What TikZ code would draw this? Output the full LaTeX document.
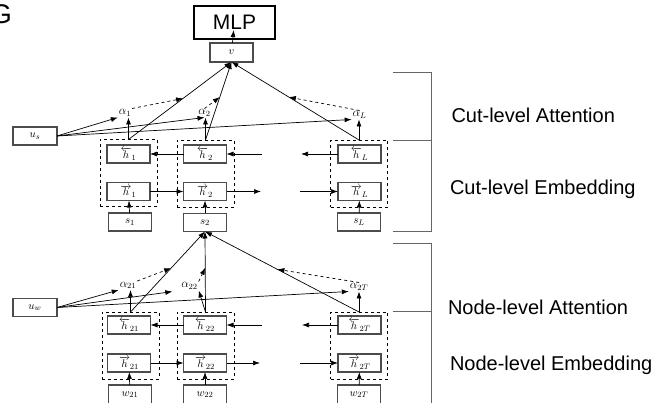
\documentclass[tikz,border=0pt]{standalone}
\usepackage{fontspec}
\newfontfamily\labelfont{Liberation Sans}
\usetikzlibrary{arrows.meta,calc}

\begin{document}
\begin{tikzpicture}[x=1pt,y=-1pt,
  every node/.style={inner sep=0pt, outer sep=0pt},
  cell/.style={draw=black!70, line width=1.1pt, minimum width=43pt, minimum height=18pt,
    font=\fontsize{11}{12}\selectfont},
  grp/.style={draw, dashed, line width=0.7pt, minimum width=57pt, minimum height=67pt},
  att/.style={font=\fontsize{11.5}{12}\selectfont, inner sep=1pt},
  arr/.style={-{Latex[length=7pt,width=5pt]}, line width=0.7pt},
  datt/.style={arr, dashed},
  bracket/.style={draw=black!60, line width=0.9pt},
  sidelabel/.style={font=\labelfont\fontsize{20}{24}\selectfont, anchor=base west},
]
\useasboundingbox (0,0) rectangle (657,403);
\clip (0,0) rectangle (657,403);

% partly cut-off title letter
\node[font=\labelfont\fontsize{27}{30}\selectfont, anchor=base east] (title) at (12,24) {G};

% ---------- output ----------
\node[draw, line width=1.6pt, minimum width=81pt, minimum height=33pt,
      font=\labelfont\fontsize{21}{24}\selectfont] (mlp) at (234.5,22.5) {MLP};
\node[cell, minimum height=19pt] (v) at (231.5,52.5) {$v$};

% ---------- cut level ----------
\node[grp] (db1) at (128.5,173) {};
\node[grp] (db2) at (205.5,173.5) {};
\node[grp] (dbL) at (359,173.5) {};

\node[cell] (bh1) at (128.5,154) {$\overleftarrow{h}_1$};
\node[cell] (fh1) at (128.5,191.5) {$\overrightarrow{h}_1$};
\node[cell] (s1)  at (130,222) {$s_1$};
\node[cell] (bh2) at (205,154) {$\overleftarrow{h}_2$};
\node[cell] (fh2) at (205,191.5) {$\overrightarrow{h}_2$};
\node[cell] (s2)  at (205,222.5) {$s_2$};
\node[cell] (bhL) at (359.5,154) {$\overleftarrow{h}_L$};
\node[cell] (fhL) at (359.5,191.5) {$\overrightarrow{h}_L$};
\node[cell] (sL)  at (359,222) {$s_L$};

\node[att] (a1) at (125,113) {$\alpha_1$};
\node[att] (a2) at (204.5,113) {$\alpha_2$};
\node[att] (aL) at (359.5,115) {$\alpha_L$};

\node[cell, minimum width=44pt] (us) at (35,136) {$u_s$};

% open ends of the recurrent chains
\coordinate (cin2)  at (262,154);
\coordinate (coutL) at (301,154);
\coordinate (cout2) at (261,191.5);
\coordinate (cinL)  at (300,191.5);

% inputs
\draw[arr] (s1) -- (fh1);
\draw[arr] (s2) -- (fh2);
\draw[arr] (sL) -- (fhL);

% recurrent links
\draw[arr] (bh2) -- (bh1);
\draw[arr] (cin2) -- (bh2);
\draw[arr] (bhL) -- (coutL);
\draw[arr] (fh1) -- (fh2);
\draw[arr] (fh2) -- (cout2);
\draw[arr] (cinL) -- (fhL);

% attention weights
\draw[arr] (db1.north) -- (db1.north |- a1.south);
\draw[arr] (db2.north) -- (db2.north |- a2.south);
\draw[arr] (dbL.north) -- (dbL.north |- aL.south);
\draw[arr] (us.east) -- (a1.south west);
\draw[arr] (us.east) -- (a2.south);
\draw[arr] (us.east) -- (aL.south west);

% weighted sum into v
\draw[arr] (db1.north) -- (v.south);
\draw[arr] (db2.north) -- (v.south);
\draw[arr] (dbL.north) -- (v.south);
\coordinate (m1) at ($(db1.north)!0.53!(v.south)$);
\coordinate (m2) at ($(db2.north)!0.55!(v.south)$);
\coordinate (mL) at ($(dbL.north)!0.55!(v.south)$);
\draw[datt] (a1.north east) -- (m1);
\draw[datt] (a2.north) -- (m2);
\draw[datt] (aL.north) -- (mL);

\draw[arr, shorten >=-9pt] (v) -- (mlp);

% ---------- node level ----------
\node[grp] (db21) at (130.5,345.5) {};
\node[grp] (db22) at (205.5,345.5) {};
\node[grp] (db2T) at (359,345.5) {};

\node[cell] (bh21) at (129,325) {$\overleftarrow{h}_{21}$};
\node[cell] (fh21) at (129,363) {$\overrightarrow{h}_{21}$};
\node[cell, minimum height=19pt] (w21) at (130,394.5) {$w_{21}$};
\node[cell] (bh22) at (205,325) {$\overleftarrow{h}_{22}$};
\node[cell] (fh22) at (205,363) {$\overrightarrow{h}_{22}$};
\node[cell, minimum height=19pt] (w22) at (205,394.5) {$w_{22}$};
\node[cell] (bh2T) at (359.5,325) {$\overleftarrow{h}_{2T}$};
\node[cell] (fh2T) at (359.5,363) {$\overrightarrow{h}_{2T}$};
\node[cell, minimum height=19pt] (w2T) at (359,394.5) {$w_{2T}$};

\node[att] (a21) at (128,285.5) {$\alpha_{21}$};
\node[att] (a22) at (189.5,286) {$\alpha_{22}$};
\node[att] (a2T) at (359,287) {$\alpha_{2T}$};

\node[cell, minimum width=44pt] (uw) at (35,307.5) {$u_w$};

\coordinate (nin2)  at (262,325);
\coordinate (noutT) at (302,325);
\coordinate (nout2) at (260,363);
\coordinate (ninT)  at (300,363);

\draw[arr] (w21) -- (fh21);
\draw[arr] (w22) -- (fh22);
\draw[arr] (w2T) -- (fh2T);

\draw[arr] (bh22) -- (bh21);
\draw[arr] (nin2) -- (bh22);
\draw[arr] (bh2T) -- (noutT);
\draw[arr] (fh21) -- (fh22);
\draw[arr] (fh22) -- (nout2);
\draw[arr] (ninT) -- (fh2T);

\draw[arr] (db21.north) -- (db21.north |- a21.south);
\draw[arr] (db22.north) -- (a22.south east);
\draw[arr] (db2T.north) -- (db2T.north |- a2T.south);
\draw[arr] (uw.east) -- (a21.south west);
\draw[arr, shorten >=8pt] (uw.east) -- (a22.south west);
\draw[arr] (uw.east) -- (a2T.south west);

\draw[arr] (db21.north) -- (s2.south);
\draw[arr] (db22.north) -- (s2.south);
\draw[arr] (db2T.north) -- (s2.south);
\coordinate (n1) at ($(db21.north)!0.545!(s2.south)$);
\coordinate (n2) at ($(db22.north)!0.55!(s2.south)$);
\coordinate (nT) at ($(db2T.north)!0.53!(s2.south)$);
\draw[datt] (a21.north east) -- (n1);
\draw[datt] (a22.north east) -- (n2);
\draw[datt] (a2T.north) -- (nT);

% ---------- level brackets ----------
\coordinate (b1a) at (393,72.3);   \coordinate (b1b) at (431,72.3);
\coordinate (b1c) at (431,231.7);  \coordinate (b1d) at (393,231.7);
\coordinate (b1e) at (393,140.7);  \coordinate (b1f) at (431,140.7);
\coordinate (b2a) at (393,243.3);  \coordinate (b2b) at (431,243.3);
\coordinate (b2c) at (431,410);
\coordinate (b2e) at (393,311.7);  \coordinate (b2f) at (431,311.7);
\draw[bracket] (b1a) -- (b1b) -- (b1c) -- (b1d);
\draw[bracket] (b1e) -- (b1f);
\draw[bracket] (b2a) -- (b2b) -- (b2c);
\draw[bracket] (b2e) -- (b2f);

\node[sidelabel] (cla) at (451.5,122.7) {Cut-level Attention};
\node[sidelabel] (cle) at (450,195) {Cut-level Embedding};
\node[sidelabel] (nla) at (448,315) {Node-level Attention};
\node[sidelabel] (nle) at (450,371) {Node-level Embedding};
\end{tikzpicture}
\end{document}
